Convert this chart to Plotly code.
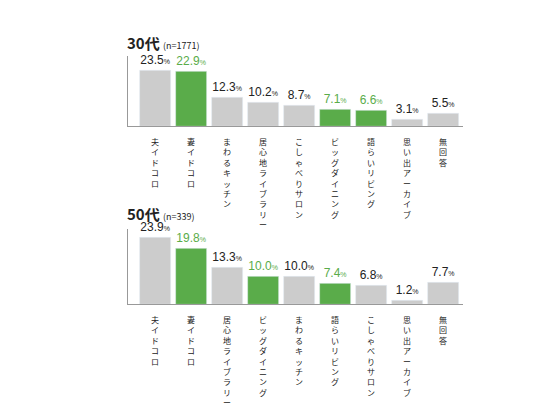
import plotly.graph_objects as go

cats30 = ["夫イドコロ", "妻イドコロ", "まわるキッチン", "居心地ライブラリー", "こしゃべりサロン",
          "ビッグダイニング", "語らいリビング", "思い出アーカイブ", "無回答"]
vals30 = [23.5, 22.9, 12.3, 10.2, 8.7, 7.1, 6.6, 3.1, 5.5]
green30 = [False, True, False, False, False, True, True, False, False]

cats50 = ["夫イドコロ", "妻イドコロ", "居心地ライブラリー", "ビッグダイニング", "まわるキッチン",
          "語らいリビング", "こしゃべりサロン", "思い出アーカイブ", "無回答"]
vals50 = [23.9, 19.8, 13.3, 10.0, 10.0, 7.4, 6.8, 1.2, 7.7]
green50 = [False, True, False, True, False, True, False, False, False]

GREEN = "#5aac4a"
GREY = "#cccccc"
FONT = "Noto Sans CJK JP"

fig = go.Figure()
panels = [
    (cats30, vals30, green30, "x", "y", [0.711, 0.884], 29.8, "30代", "(n=1771)", 0.915),
    (cats50, vals50, green50, "x2", "y2", [0.277, 0.462], 27.1, "50代", "(n=339)", 0.498),
]
for cats, vals, greens, xa, ya, dom, top, title, n, ty in panels:
    idx = list(range(len(cats)))
    fig.add_trace(go.Bar(
        x=idx, y=vals, xaxis=xa, yaxis=ya, width=0.86,
        marker_color=[GREEN if g else GREY for g in greens],
        text=[f"{v:.1f}<span style='font-size:7px'>%</span>" for v in vals],
        textposition="outside", cliponaxis=False,
        textfont=dict(size=12, family="Arial", color=[GREEN if g else "#222" for g in greens]),
        showlegend=False,
    ))
    for i, c in zip(idx, cats):
        fig.add_annotation(x=i, y=0, xref=xa, yref=ya, yshift=-8, yanchor="top",
                           text="<br>".join(c), showarrow=False,
                           font=dict(size=8, family=FONT, color="#222"))
    fig.add_annotation(x=0.213, y=ty, xref="paper", yref="paper", xanchor="left", yanchor="middle",
                       text=f"<b>{title}</b> <span style='font-size:9px'>{n}</span>",
                       showarrow=False, font=dict(size=15, family=FONT, color="#222"))
    ax = dict(domain=[0.218, 0.827], range=[-0.75, 8.55], showticklabels=False, showgrid=False,
              zeroline=False, showline=True, linecolor="#999", linewidth=1, ticks="")
    ay = dict(domain=dom, range=[0, top], showticklabels=False, showgrid=False,
              zeroline=False, showline=True, linecolor="#999", linewidth=1, ticks="")
    if xa == "x":
        fig.update_layout(xaxis=dict(ax, anchor="y"), yaxis=dict(ay, anchor="x"))
    else:
        fig.update_layout(xaxis2=dict(ax, anchor="y2"), yaxis2=dict(ay, anchor="x2"))

fig.update_layout(width=550, height=410, margin=dict(l=0, r=0, t=0, b=0),
                  plot_bgcolor="white", paper_bgcolor="white", bargap=0)
fig.write_html("out.html")
